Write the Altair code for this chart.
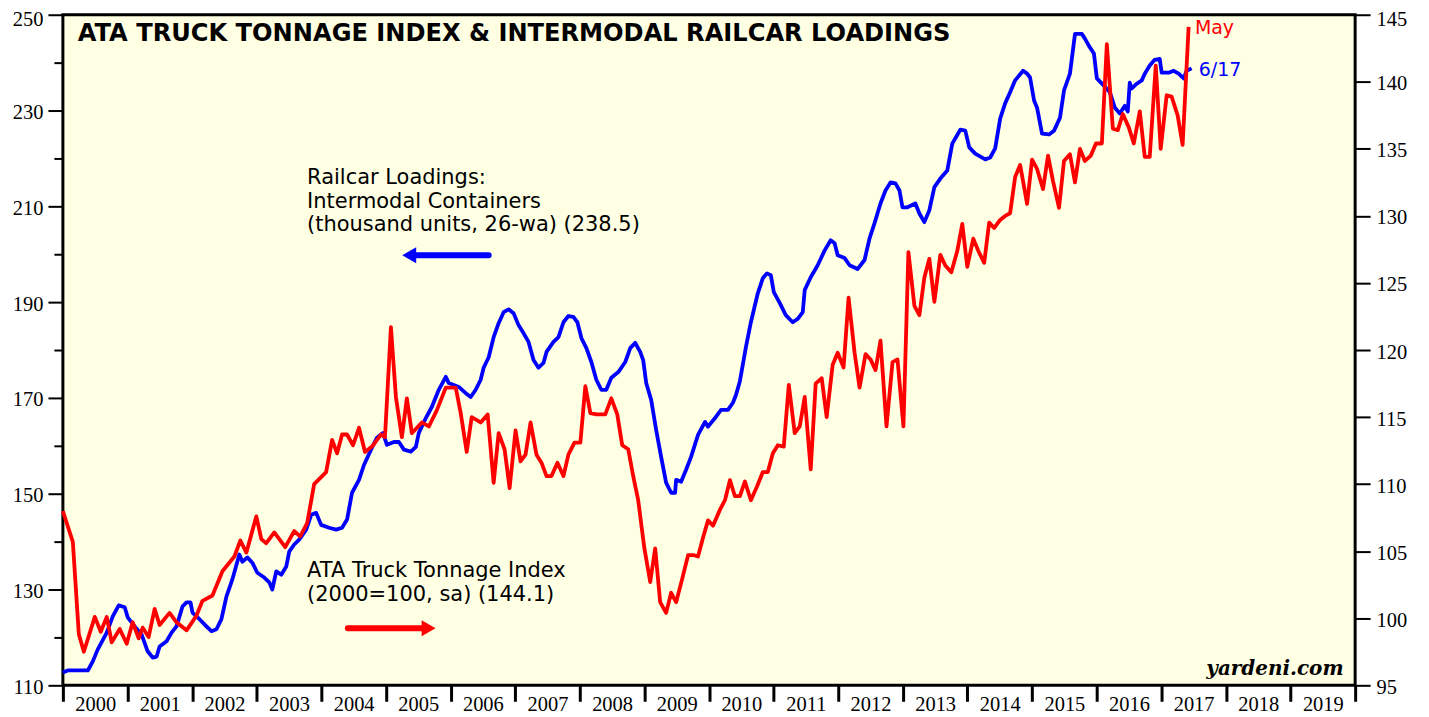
import altair as alt
import pandas as pd

# ---------------- data ----------------
# Railcar loadings, intermodal containers (thousand units, 26-wa) -> left axis
rail_year = [
    2000.000, 2000.077, 2000.386, 2000.463, 2000.540, 2000.679, 2000.772, 2000.864, 2000.957, 2001.003,
    2001.111, 2001.219, 2001.312, 2001.389, 2001.451, 2001.497, 2001.605, 2001.682, 2001.759, 2001.852,
    2001.914, 2001.975, 2002.006, 2002.114, 2002.222, 2002.299, 2002.377, 2002.454, 2002.531, 2002.623,
    2002.731, 2002.778, 2002.855, 2002.932, 2003.009, 2003.117, 2003.194, 2003.241, 2003.302, 2003.380,
    2003.457, 2003.503, 2003.580, 2003.657, 2003.765, 2003.843, 2003.920, 2003.997, 2004.120, 2004.228,
    2004.321, 2004.398, 2004.475, 2004.583, 2004.660, 2004.769, 2004.861, 2004.954, 2005.015, 2005.123,
    2005.201, 2005.278, 2005.386, 2005.463, 2005.509, 2005.617, 2005.710, 2005.818, 2005.926, 2005.972,
    2006.127, 2006.235, 2006.312, 2006.389, 2006.466, 2006.512, 2006.590, 2006.667, 2006.744, 2006.821,
    2006.898, 2006.975, 2007.052, 2007.130, 2007.207, 2007.284, 2007.361, 2007.438, 2007.485, 2007.593,
    2007.670, 2007.747, 2007.824, 2007.901, 2007.963, 2008.025, 2008.102, 2008.179, 2008.256, 2008.333,
    2008.410, 2008.488, 2008.596, 2008.704, 2008.781, 2008.858, 2008.935, 2008.981, 2009.028, 2009.105,
    2009.182, 2009.259, 2009.336, 2009.414, 2009.475, 2009.491, 2009.568, 2009.645, 2009.722, 2009.830,
    2009.938, 2009.985, 2010.093, 2010.185, 2010.293, 2010.370, 2010.417, 2010.478, 2010.571, 2010.648,
    2010.756, 2010.833, 2010.895, 2010.957, 2011.003, 2011.096, 2011.188, 2011.296, 2011.373, 2011.451,
    2011.481, 2011.574, 2011.682, 2011.790, 2011.883, 2011.944, 2011.991, 2012.099, 2012.176, 2012.299,
    2012.407, 2012.485, 2012.562, 2012.654, 2012.731, 2012.809, 2012.886, 2012.948, 2012.994, 2013.071,
    2013.194, 2013.256, 2013.333, 2013.410, 2013.488, 2013.580, 2013.688, 2013.765, 2013.889, 2013.966,
    2014.028, 2014.120, 2014.275, 2014.352, 2014.429, 2014.506, 2014.583, 2014.660, 2014.738, 2014.861,
    2014.923, 2014.969, 2015.031, 2015.077, 2015.154, 2015.262, 2015.340, 2015.432, 2015.494, 2015.586,
    2015.664, 2015.772, 2015.818, 2015.880, 2015.957, 2016.003, 2016.111, 2016.204, 2016.281, 2016.358,
    2016.435, 2016.481, 2016.512, 2016.543, 2016.620, 2016.698, 2016.744, 2016.821, 2016.898, 2016.975,
    2017.006, 2017.114, 2017.191, 2017.269, 2017.346, 2017.392, 2017.469,
]
rail_value = [
    112.7, 113.1, 113.1, 115.0, 117.5, 121.0, 124.4, 126.7, 126.3, 124.2,
    122.3, 120.6, 117.1, 115.8, 116.0, 118.1, 119.2, 121.0, 122.3, 126.5,
    127.3, 127.3, 125.2, 123.8, 122.3, 121.3, 121.7, 123.8, 128.5, 132.1,
    137.3, 135.8, 136.7, 135.6, 133.5, 132.5, 131.5, 130.0, 133.8, 133.1,
    134.8, 137.9, 139.4, 140.4, 142.5, 145.6, 146.0, 143.5, 142.9, 142.5,
    142.9, 144.6, 150.2, 152.9, 156.0, 159.2, 161.7, 162.7, 160.2, 160.8,
    160.8, 159.2, 158.8, 159.8, 162.7, 165.8, 168.1, 171.7, 174.4, 173.1,
    172.3, 171.0, 170.2, 171.7, 173.8, 176.3, 178.5, 182.7, 185.6, 187.9,
    188.5, 187.7, 185.2, 183.5, 181.7, 177.9, 176.3, 177.3, 179.6, 181.7,
    182.7, 185.8, 187.1, 186.9, 185.8, 182.5, 180.4, 177.5, 173.8, 171.7,
    171.7, 174.2, 175.4, 177.5, 180.4, 181.5, 179.6, 177.9, 173.1, 169.6,
    163.3, 157.7, 152.3, 150.2, 150.2, 152.9, 152.5, 155.0, 157.7, 162.3,
    165.0, 164.0, 165.8, 167.5, 167.5, 169.0, 170.6, 173.5, 180.6, 185.8,
    191.9, 195.0, 196.0, 195.6, 192.1, 189.8, 187.3, 185.8, 186.5, 187.9,
    192.5, 195.2, 197.7, 200.8, 202.9, 202.3, 199.8, 199.2, 197.7, 196.9,
    198.8, 203.3, 206.5, 210.6, 213.3, 215.0, 214.8, 213.3, 209.8, 209.8,
    210.6, 208.5, 206.7, 209.2, 214.0, 215.8, 217.5, 223.1, 226.0, 225.8,
    222.3, 221.0, 219.8, 220.2, 222.1, 228.3, 231.5, 233.8, 236.3, 238.3,
    237.7, 236.9, 232.1, 230.6, 225.2, 225.0, 225.8, 228.5, 234.2, 237.7,
    246.0, 246.0, 245.0, 243.5, 241.9, 236.7, 235.2, 233.8, 230.6, 229.4,
    231.0, 229.8, 235.8, 234.6, 235.6, 236.3, 237.7, 239.4, 240.6, 240.8,
    237.9, 237.9, 238.3, 237.7, 236.7, 238.3, 238.8,
]

# ATA truck tonnage index (2000=100, sa) -> right axis
truck_year = [
    2000.000, 2000.154, 2000.247, 2000.324, 2000.494, 2000.586, 2000.679, 2000.756, 2000.880, 2000.988,
    2001.080, 2001.173, 2001.235, 2001.327, 2001.420, 2001.497, 2001.651, 2001.759, 2001.914, 2002.068,
    2002.160, 2002.315, 2002.469, 2002.654, 2002.747, 2002.840, 2002.994, 2003.071, 2003.148, 2003.272,
    2003.441, 2003.580, 2003.673, 2003.781, 2003.889, 2004.074, 2004.167, 2004.244, 2004.321, 2004.398,
    2004.491, 2004.583, 2004.676, 2004.784, 2004.923, 2004.985, 2005.077, 2005.154, 2005.247, 2005.324,
    2005.401, 2005.556, 2005.664, 2005.787, 2005.926, 2006.080, 2006.157, 2006.250, 2006.327, 2006.466,
    2006.574, 2006.667, 2006.744, 2006.836, 2006.914, 2007.006, 2007.083, 2007.160, 2007.238, 2007.330,
    2007.407, 2007.485, 2007.562, 2007.654, 2007.747, 2007.824, 2007.917, 2008.009, 2008.086, 2008.164,
    2008.256, 2008.395, 2008.488, 2008.580, 2008.657, 2008.750, 2008.827, 2008.904, 2008.997, 2009.090,
    2009.167, 2009.244, 2009.336, 2009.414, 2009.491, 2009.583, 2009.676, 2009.769, 2009.830, 2009.907,
    2009.985, 2010.062, 2010.170, 2010.247, 2010.324, 2010.401, 2010.478, 2010.556, 2010.648, 2010.741,
    2010.833, 2010.910, 2010.988, 2011.065, 2011.157, 2011.235, 2011.327, 2011.404, 2011.481, 2011.574,
    2011.651, 2011.744, 2011.821, 2011.914, 2011.991, 2012.083, 2012.160, 2012.253, 2012.330, 2012.423,
    2012.500, 2012.577, 2012.654, 2012.747, 2012.840, 2012.917, 2013.009, 2013.086, 2013.179, 2013.256,
    2013.333, 2013.410, 2013.488, 2013.580, 2013.657, 2013.750, 2013.843, 2013.920, 2013.997, 2014.090,
    2014.167, 2014.259, 2014.336, 2014.414, 2014.506, 2014.583, 2014.660, 2014.738, 2014.815, 2014.923,
    2015.000, 2015.077, 2015.170, 2015.247, 2015.324, 2015.417, 2015.494, 2015.586, 2015.664, 2015.741,
    2015.818, 2015.910, 2015.988, 2016.080, 2016.157, 2016.250, 2016.327, 2016.404, 2016.497, 2016.574,
    2016.667, 2016.744, 2016.821, 2016.914, 2016.991, 2017.083, 2017.160, 2017.253, 2017.330, 2017.423,
]
truck_value = [
    108.0, 105.7, 98.8, 97.5, 100.1, 99.0, 100.1, 98.2, 99.2, 98.1,
    99.7, 98.5, 99.3, 98.6, 100.7, 99.5, 100.4, 99.7, 99.1, 100.2,
    101.3, 101.7, 103.5, 104.6, 105.8, 104.9, 107.6, 105.9, 105.6, 106.4,
    105.3, 106.5, 106.1, 107.1, 110.0, 110.9, 113.3, 112.3, 113.7, 113.7,
    112.9, 114.2, 112.4, 112.8, 113.7, 113.5, 121.7, 116.5, 113.5, 116.4,
    113.8, 114.6, 114.3, 115.5, 117.2, 117.2, 115.3, 112.4, 115.0, 114.6,
    115.2, 110.1, 113.8, 112.6, 109.7, 114.0, 111.7, 112.2, 114.6, 112.2,
    111.6, 110.6, 110.6, 111.6, 110.6, 112.2, 113.1, 113.1, 117.3, 115.3,
    115.2, 115.2, 116.4, 115.2, 112.9, 112.6, 110.6, 108.8, 105.3, 102.7,
    105.2, 101.2, 100.4, 101.9, 101.2, 102.9, 104.7, 104.7, 104.6, 106.0,
    107.3, 106.9, 108.1, 108.8, 110.3, 109.1, 109.1, 110.2, 108.8, 109.8,
    110.9, 110.9, 112.3, 112.9, 112.8, 117.4, 113.8, 114.3, 116.5, 111.1,
    117.5, 117.9, 115.0, 118.9, 119.8, 118.7, 123.9, 119.8, 117.2, 119.7,
    119.3, 118.5, 120.7, 114.3, 119.1, 119.3, 114.3, 127.3, 123.3, 122.6,
    125.4, 126.8, 123.6, 127.1, 126.3, 125.8, 127.4, 129.4, 126.2, 128.3,
    127.4, 126.5, 129.5, 129.1, 129.7, 130.0, 130.2, 132.9, 133.8, 130.9,
    134.2, 133.5, 132.0, 134.5, 132.6, 130.6, 134.1, 134.6, 132.5, 135.0,
    134.1, 134.5, 135.4, 135.4, 142.8, 136.5, 136.4, 137.6, 136.6, 135.4,
    137.8, 134.4, 134.4, 141.2, 135.0, 139.0, 138.9, 137.5, 135.3, 144.1,
]

# axis tick values
year_ticks = list(range(2000, 2021))
year_label_pos = [y + 0.5 for y in range(2000, 2020)]
left_major = list(range(110, 251, 20))
left_minor = list(range(120, 241, 20))
right_ticks = list(range(95, 146, 5))

# annotations (data units)
title_text = ["ATA TRUCK TONNAGE INDEX & INTERMODAL RAILCAR LOADINGS"]
rail_label_lines = ["Railcar Loadings:", "Intermodal Containers", "(thousand units, 26-wa) (238.5)"]
rail_label_y = [216.0, 210.9, 206.0]
truck_label_lines = ["ATA Truck Tonnage Index", "(2000=100, sa) (144.1)"]
truck_label_y = [133.8, 128.8]

BLUE = "#0000FF"
RED = "#FF0000"
SANS = "DejaVu Sans"
SERIF = "Liberation Serif"

X = alt.Scale(domain=[2000, 2020], nice=False, zero=False)
YL = alt.Scale(domain=[110, 250], nice=False, zero=False)
YR = alt.Scale(domain=[95, 145], nice=False, zero=False)

ax = dict(domain=False, grid=False, title=None, labelFont=SERIF, labelFontSize=20.5,
          labelColor="black", tickColor="black")

rail_df = pd.DataFrame({"year": rail_year, "value": rail_value})
truck_df = pd.DataFrame({"year": truck_year, "value": truck_value})

rail_line = alt.Chart(rail_df).mark_line(color=BLUE, strokeWidth=3.8, strokeJoin="round").encode(
    x=alt.X("year:Q", scale=X,
            axis=alt.Axis(values=year_ticks, labels=False, tickSize=16, tickWidth=3, orient="bottom", **ax)),
    y=alt.Y("value:Q", scale=YL,
            axis=alt.Axis(values=left_major, orient="left", tickSize=15, tickWidth=2, labelPadding=5,
                          labelOffset={"condition": {"test": "datum.value == 250", "value": 5}, "value": 2},
                          **ax)),
)

truck_line = alt.Chart(truck_df).mark_line(color=RED, strokeWidth=3.8, strokeJoin="round").encode(
    x=alt.X("year:Q", scale=X,
            axis=alt.Axis(values=year_label_pos, ticks=False, tickSize=0, labelPadding=9, orient="bottom",
                          labelExpr="toString(floor(datum.value))", labelFlush=False, labelOverlap=False, **ax)),
    y=alt.Y("value:Q", scale=YR,
            axis=alt.Axis(values=right_ticks, orient="right", tickSize=15, tickWidth=2, labelPadding=6,
                          labelOffset={"condition": {"test": "datum.value == 145", "value": 5}, "value": 2},
                          **ax)),
)

def text_layer(df, yscale, color, size, font=SANS, weight="normal", style="normal", align="left", axis=None):
    return alt.Chart(df).mark_text(align=align, baseline="middle", font=font, fontSize=size,
                                   fontWeight=weight, fontStyle=style, color=color).encode(
        x=alt.X("x:Q", scale=X, axis=None),
        y=alt.Y("y:Q", scale=yscale, axis=axis),
        text="t:N",
    )

title = text_layer(pd.DataFrame({"x": [2000.23], "y": [246.0], "t": title_text}), YL, "black", 24.2,
                   weight="bold",
                   axis=alt.Axis(values=left_minor, orient="left", labels=False, tickSize=9, tickWidth=2, **ax))
rail_lbl = text_layer(pd.DataFrame({"x": [2003.78] * 3, "y": rail_label_y, "t": rail_label_lines}), YL, "black", 21)
truck_lbl = text_layer(pd.DataFrame({"x": [2003.78] * 2, "y": truck_label_y, "t": truck_label_lines}), YL, "black", 21)
may_lbl = text_layer(pd.DataFrame({"x": [2017.52], "y": [144.0], "t": ["May"]}), YR, RED, 19)
jun_lbl = text_layer(pd.DataFrame({"x": [2017.58], "y": [238.5], "t": ["6/17"]}), YL, BLUE, 19)
src_lbl = text_layer(pd.DataFrame({"x": [2019.82], "y": [113.4], "t": ["yardeni.com"]}), YL, "black", 20,
                     font="DejaVu Serif", weight="bold", style="italic", align="right")

# arrows
blue_arrow_df = pd.DataFrame({"x": [2005.36], "x2": [2006.59], "y": [199.8]})
red_arrow_df = pd.DataFrame({"x": [2004.41], "x2": [2005.66], "y": [121.9]})

blue_shaft = alt.Chart(blue_arrow_df).mark_rule(color=BLUE, strokeWidth=6, strokeCap="round").encode(
    x=alt.X("x:Q", scale=X, axis=None), x2="x2:Q", y=alt.Y("y:Q", scale=YL, axis=None))
blue_head = alt.Chart(blue_arrow_df).mark_point(shape="triangle-left", filled=True, size=260, color=BLUE, opacity=1).encode(
    x=alt.X("x:Q", scale=X, axis=None), y=alt.Y("y:Q", scale=YL, axis=None))
red_shaft = alt.Chart(red_arrow_df).mark_rule(color=RED, strokeWidth=6, strokeCap="round").encode(
    x=alt.X("x:Q", scale=X, axis=None), x2="x2:Q", y=alt.Y("y:Q", scale=YL, axis=None))
red_head = alt.Chart(red_arrow_df).mark_point(shape="triangle-right", filled=True, size=260, color=RED, opacity=1).encode(
    x=alt.X("x2:Q", scale=X, axis=None), y=alt.Y("y:Q", scale=YL, axis=None))

chart = alt.layer(
    rail_line, truck_line, title, rail_lbl, truck_lbl, may_lbl, jun_lbl, src_lbl,
    blue_shaft, blue_head, red_shaft, red_head,
).resolve_scale(y="independent").resolve_axis(x="independent", y="independent").properties(
    width=1295, height=672,
    autosize=alt.AutoSizeParams(type="none"),
    padding={"left": 55, "top": 6, "right": 66, "bottom": 31},
    background="white",
).configure_view(fill="#FFFFE3", stroke="black", strokeWidth=3)

chart.save("out.html", embed_options={"renderer": "svg", "actions": False})
